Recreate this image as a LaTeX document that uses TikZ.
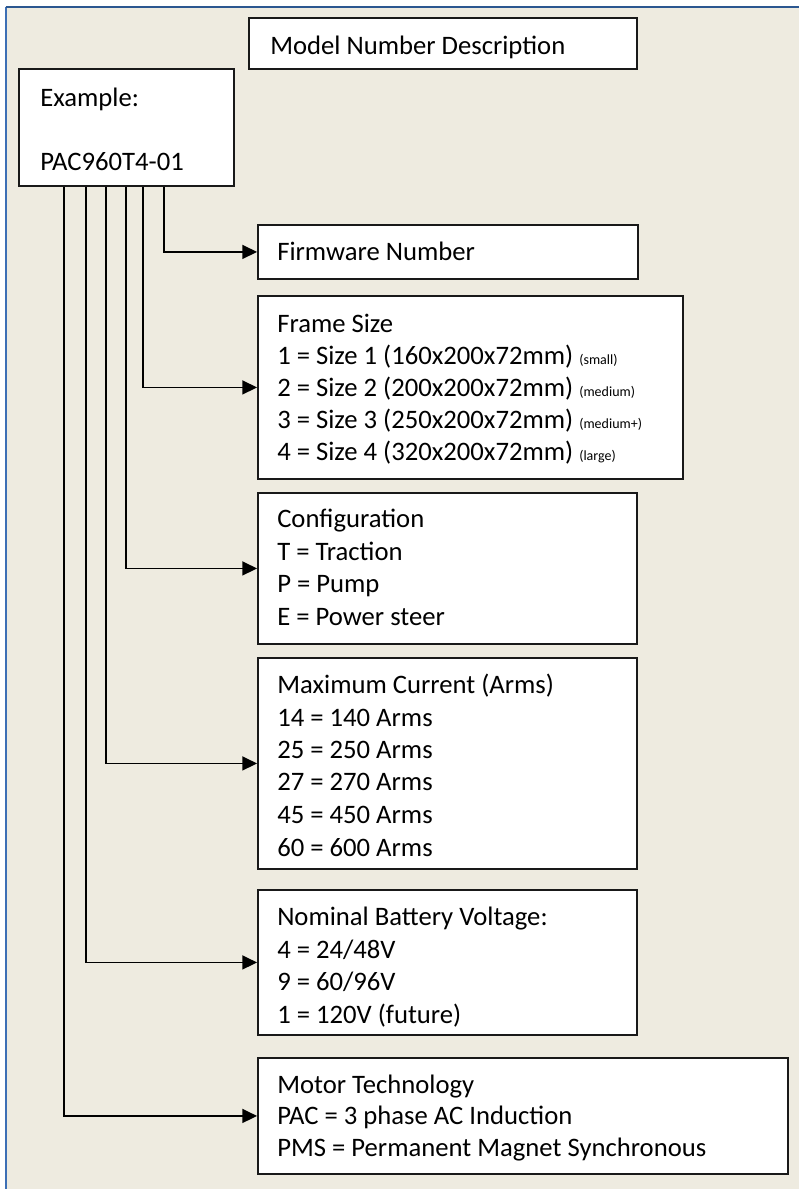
\documentclass[tikz,border=0pt]{standalone}
\usepackage{fontspec}
\setmainfont{Carlito}
\usetikzlibrary{arrows.meta}
\definecolor{bg}{HTML}{EEEBE0}
\definecolor{frametop}{HTML}{2B5790}
\definecolor{frameleft}{HTML}{3D6FB5}
\begin{document}
\begin{tikzpicture}[x=0.75pt,y=-0.75pt,
  box/.style={draw=black!90, fill=white, line width=1.4pt, inner sep=0pt, anchor=north west},
  txt/.style={anchor=base west, inner sep=0pt, font=\fontsize{20}{24}\selectfont},
  conn/.style={draw=black, line width=1.3pt, -{Triangle[length=11pt,width=10.5pt]}}]
\useasboundingbox (0,0) rectangle (799,1189);
\fill[white] (0,0) rectangle (799,1189);
\fill[bg] (6,7) rectangle (799,1189);
\draw[frameleft, line width=1.5pt] (6,1189) -- (6,7);
\draw[frametop, line width=1.5pt] (5.5,7) -- (799,7);

% boxes
\node[box, minimum width=291pt, minimum height=38.25pt] (title) at (248,17) {};
\node[box, minimum width=161.25pt, minimum height=87.75pt] (ex) at (18,68) {};
\node[box, minimum width=285pt, minimum height=40.5pt] (fw) at (257,224) {};
\node[box, minimum width=318.75pt, minimum height=137.25pt] (fs) at (257,295) {};
\node[box, minimum width=284.25pt, minimum height=113.25pt] (cf) at (257,492) {};
\node[box, minimum width=284.25pt, minimum height=158.25pt] (mc) at (257,657) {};
\node[box, minimum width=284.25pt, minimum height=108.75pt] (bv) at (257,889) {};
\node[box, minimum width=397.5pt, minimum height=87pt] (mt) at (257,1057) {};

% texts
\node[txt] (titlet) at (270,54) {Model Number Description};
\node[txt] (ext1) at (40,106) {Example:};
\node[txt] (ext2) at (40,170) {PAC960T4-01};
\node[txt] (fwt) at (277,260) {Firmware Number};

\node[txt] (fst0) at (277,332) {Frame Size};
\node[txt] (fst1) at (277,364) {1 = Size 1 (160x200x72mm) {\fontsize{10.5}{12}\selectfont (small)}};
\node[txt] (fst2) at (277,396) {2 = Size 2 (200x200x72mm) {\fontsize{10.5}{12}\selectfont (medium)}};
\node[txt] (fst3) at (277,428) {3 = Size 3 (250x200x72mm) {\fontsize{10.5}{12}\selectfont (medium+)}};
\node[txt] (fst4) at (277,460) {4 = Size 4 (320x200x72mm) {\fontsize{10.5}{12}\selectfont (large)}};

\node[txt] (cft0) at (277,527) {Configuration};
\node[txt] (cft1) at (277,560) {T = Traction};
\node[txt] (cft2) at (277,592) {P = Pump};
\node[txt] (cft3) at (277,625) {E = Power steer};

\node[txt] (mct0) at (277,693) {Maximum Current (Arms)};
\node[txt] (mct1) at (277,726) {14 = 140 Arms};
\node[txt] (mct2) at (277,758) {25 = 250 Arms};
\node[txt] (mct3) at (277,790) {27 = 270 Arms};
\node[txt] (mct4) at (277,823) {45 = 450 Arms};
\node[txt] (mct5) at (277,856) {60 = 600 Arms};

\node[txt] (bvt0) at (277,925) {Nominal Battery Voltage:};
\node[txt] (bvt1) at (277,958) {4 = 24/48V};
\node[txt] (bvt2) at (277,990) {9 = 60/96V};
\node[txt] (bvt3) at (277,1023) {1 = 120V (future)};

\node[txt] (mtt0) at (277,1093) {Motor Technology};
\node[txt] (mtt1) at (277,1124) {PAC = 3 phase AC Induction};
\node[txt] (mtt2) at (277,1156) {PMS = Permanent Magnet Synchronous};

% connectors
\draw[conn] (ex.south -| 164,0) |- (fw.west);
\draw[conn] (ex.south -| 143,0) |- (fs.west);
\draw[conn] (ex.south -| 126,0) |- (cf.west);
\draw[conn] (ex.south -| 106,0) |- (mc.west);
\draw[conn] (ex.south -| 86,0) |- (bv.west);
\draw[conn] (ex.south -| 64,0) |- (mt.west);
\end{tikzpicture}
\end{document}
